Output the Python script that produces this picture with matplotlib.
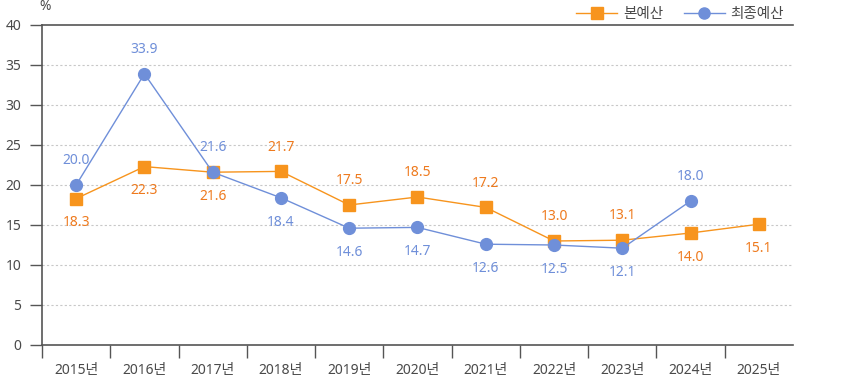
import matplotlib
matplotlib.use("Agg")
import matplotlib.pyplot as plt
from matplotlib.lines import Line2D

plt.rcParams['font.family'] = ['Noto Sans', 'Noto Sans CJK KR', 'DejaVu Sans']

years = ['2015년', '2016년', '2017년', '2018년', '2019년', '2020년',
         '2021년', '2022년', '2023년', '2024년', '2025년']
main_budget = [18.3, 22.3, 21.6, 21.7, 17.5, 18.5, 17.2, 13.0, 13.1, 14.0, 15.1]
final_budget = [20.0, 33.9, 21.6, 18.4, 14.6, 14.7, 12.6, 12.5, 12.1, 18.0]
# label placement: 1 above, -1 below
main_pos = [-1, -1, -1, 1, 1, 1, 1, 1, 1, -1, -1]
final_pos = [1, 1, 1, -1, -1, -1, -1, -1, -1, 1]

orange = '#F7941D'
orange_txt = '#EE7A1E'
blue = '#6F8FD9'
axis_c = '#555555'
txt_c = '#4a4a4a'

fig = plt.figure(figsize=(8.62, 3.79), dpi=100)
ax = fig.add_axes([42 / 862, 34 / 379, 751 / 862, 320 / 379])

xs = list(range(len(years)))
ax.plot(xs, main_budget, color=orange, lw=1, marker='s', ms=8.5, zorder=3)
ax.plot(xs[:len(final_budget)], final_budget, color=blue, lw=1, marker='o', ms=8.5, zorder=4)

for x, v, p in zip(xs, main_budget, main_pos):
    ax.annotate(f'{v:.1f}', (x, v), xytext=(0, 17.5 * p), textcoords='offset points',
                ha='center', va='center', color=orange_txt, fontsize=10)
for x, v, p in zip(xs, final_budget, final_pos):
    ax.annotate(f'{v:.1f}', (x, v), xytext=(0, 17.5 * p), textcoords='offset points',
                ha='center', va='center', color=blue, fontsize=10)

ax.set_xlim(-0.5, len(years) - 0.5)
ax.set_ylim(0, 40)
ax.set_yticks(range(0, 41, 5))
ax.set_xticks([x - 0.5 for x in xs])
ax.set_xticklabels([])
ax.set_xticks(xs, minor=True)
ax.set_xticklabels(years, minor=True)
ax.tick_params(axis='x', which='minor', length=0, pad=13, labelsize=10, labelcolor=txt_c)
ax.tick_params(axis='x', which='major', length=9, width=1, color=axis_c, direction='out')
ax.tick_params(axis='y', length=9, width=1, color=axis_c, labelsize=10, labelcolor=txt_c, pad=6)

for y in range(5, 40, 5):
    ax.axhline(y, color='#C8C8C8', lw=0.8, ls=(0, (2, 2)), zorder=1)

ax.spines['right'].set_visible(False)
for s in ['left', 'bottom', 'top']:
    ax.spines[s].set_color(axis_c)
    ax.spines[s].set_linewidth(1.2)

fig.text(39 / 862, 1 - 6 / 379, '%', ha='left', va='center', fontsize=10, color=txt_c)

handles = [Line2D([], [], color=orange, lw=1, marker='s', ms=8),
           Line2D([], [], color=blue, lw=1, marker='o', ms=8)]
fig.legend(handles, ['본예산', '최종예산'], loc='upper right', bbox_to_anchor=(797 / 862, 1.015),
           ncol=2, frameon=False, fontsize=10.5, handlelength=2.8, columnspacing=1.4,
           handletextpad=0.4, labelcolor=txt_c)

fig.savefig('out.png', dpi=100)
